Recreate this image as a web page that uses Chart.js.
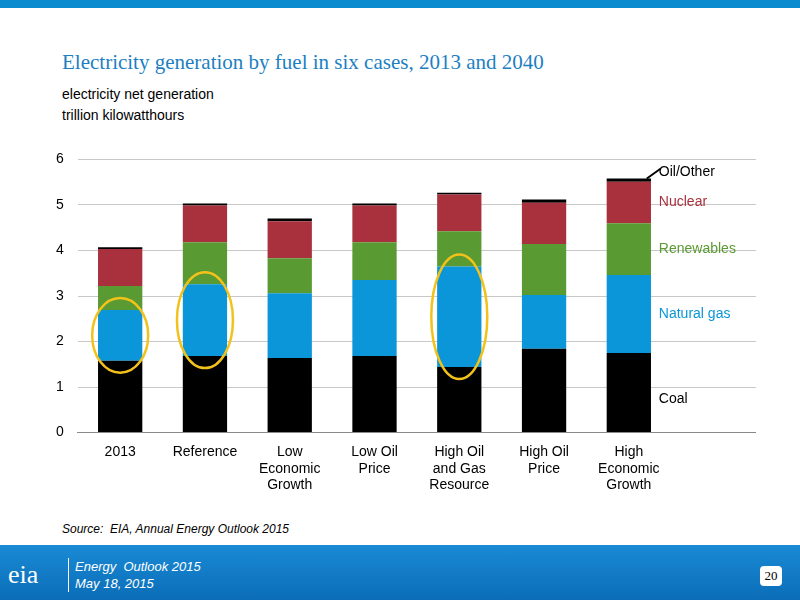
<!DOCTYPE html>
<html>
<head>
<meta charset="utf-8">
<script src="https://cdn.jsdelivr.net/npm/chart.js@4"></script>
<style>
body{margin:0;width:800px;height:600px;position:relative;background:#fff;font-family:"Liberation Sans",Arial,sans-serif;overflow:hidden}
#topbar{position:absolute;left:0;top:0;width:800px;height:8px;background:#0a8bd0}
#title{position:absolute;left:62px;top:50px;font-family:"Liberation Serif",serif;font-size:21px;color:#1d7fc2}
#sub{position:absolute;left:62px;top:84px;font-size:14px;line-height:21px;color:#000}
#src{position:absolute;left:62px;top:522px;font-size:12px;font-style:italic}
#foot{position:absolute;left:0;top:545px;width:800px;height:55px;background:linear-gradient(#1a8ad4,#0b6db8)}
#logo{position:absolute;left:8px;top:560px;color:#fff;font-size:26px;font-family:"Liberation Serif",serif}
#ftxt{position:absolute;left:68px;top:558px;color:#fff;font-size:13px;font-style:italic;line-height:17px;border-left:1px solid #fff;padding-left:6px}
#pg{position:absolute;left:760px;top:566px;width:22px;height:20px;background:#fff;border-radius:4px;font-family:"Liberation Serif",serif;font-size:13px;text-align:center;line-height:20px}
#wrap{position:absolute;left:42px;top:137px;width:714px;height:360px}
</style>
</head>
<body>
<div id="topbar"></div>
<div id="title">Electricity generation by fuel in six cases, 2013 and 2040</div>
<div id="sub">electricity net generation<br>trillion kilowatthours</div>
<div id="wrap"><canvas id="c"></canvas></div>
<div id="src">Source:&nbsp; EIA, Annual Energy Outlook 2015</div>
<div id="foot"></div>
<div id="logo">eia</div>
<div id="ftxt">Energy&nbsp; Outlook 2015<br>May 18, 2015</div>
<div id="pg">20</div>
<script>
const categories = [['2013'], ['Reference'], ['Low', 'Economic', 'Growth'], ['Low Oil', 'Price'], ['High Oil', 'and Gas', 'Resource'], ['High Oil', 'Price'], ['High', 'Economic', 'Growth'], ['']];
const coal = [1.58, 1.68, 1.64, 1.68, 1.44, 1.84, 1.75, null];
const naturalGas = [1.11, 1.58, 1.42, 1.67, 2.21, 1.18, 1.71, null];
const renewables = [0.53, 0.92, 0.77, 0.83, 0.77, 1.12, 1.14, null];
const nuclear = [0.81, 0.81, 0.81, 0.81, 0.81, 0.91, 0.91, null];
const oilOther = [0.04, 0.04, 0.06, 0.04, 0.04, 0.07, 0.07, null];
const circled = [0, 1, 4];

const seriesLabels = [
    {text: 'Coal', color: '#000'},
    {text: 'Natural gas', color: '#0a96d8'},
    {text: 'Renewables', color: '#5a9a32'},
    {text: 'Nuclear', color: '#a8313d'}
];

const decor = {
    id: 'decor',
    afterDatasetsDraw(chart) {
        const ctx = chart.ctx, x = chart.scales.x, y = chart.scales.y;
        const last = 6, lx = x.getPixelForValue(last) + 30;
        ctx.save();
        ctx.font = '14px "Liberation Sans", Arial';
        ctx.textBaseline = 'middle';
        let base = 0;
        const sets = [coal, naturalGas, renewables, nuclear];
        sets.forEach((s, i) => {
            let mid = base + s[last] / 2;
            base += s[last];
            ctx.fillStyle = seriesLabels[i].color;
            ctx.fillText(seriesLabels[i].text, lx, y.getPixelForValue(mid) + (i === 0 ? 6 : 0));
        });
        let top = base + oilOther[last];
        let py = y.getPixelForValue(top);
        let bx = x.getPixelForValue(last) + 18;
        ctx.strokeStyle = '#000';
        ctx.lineWidth = 2;
        ctx.beginPath();
        ctx.moveTo(bx, py);
        ctx.lineTo(bx + 14, py - 10);
        ctx.stroke();
        ctx.fillStyle = '#000';
        ctx.fillText('Oil/Other', bx + 12, py - 6);
        ctx.strokeStyle = '#f3c21a';
        ctx.lineWidth = 2.5;
        circled.forEach(i => {
            let a = y.getPixelForValue(coal[i]), b = y.getPixelForValue(coal[i] + naturalGas[i]);
            let cx = x.getPixelForValue(i);
            ctx.beginPath();
            ctx.ellipse(cx, (a + b) / 2, 28, Math.abs(a - b) / 2 + 12, 0, 0, Math.PI * 2);
            ctx.stroke();
        });
        ctx.restore();
    }
};

const mk = (label, data, color) => ({label, data, backgroundColor: color, barPercentage: 0.55, categoryPercentage: 0.95});

new Chart(document.getElementById('c'), {
    type: 'bar',
    data: {
        labels: categories,
        datasets: [
            mk('Coal', coal, '#000000'),
            mk('Natural gas', naturalGas, '#0a96d8'),
            mk('Renewables', renewables, '#5a9a32'),
            mk('Nuclear', nuclear, '#a8313d'),
            mk('Oil/Other', oilOther, '#000000')
        ]
    },
    options: {
        responsive: true,
        maintainAspectRatio: false,
        animation: false,
        plugins: {legend: {display: false}, tooltip: {enabled: false}},
        scales: {
            x: {
                stacked: true,
                grid: {display: false},
                border: {color: '#888'},
                ticks: {color: '#000', font: {size: 14, family: '"Liberation Sans", Arial'}, maxRotation: 0, autoSkip: false}
            },
            y: {
                stacked: true,
                min: 0, max: 6,
                ticks: {stepSize: 1, color: '#000', font: {size: 14, family: '"Liberation Sans", Arial'}, padding: 14},
                grid: {color: '#c8c8c8', drawTicks: false},
                border: {display: false}
            }
        }
    },
    plugins: [decor]
});
</script>
</body>
</html>
